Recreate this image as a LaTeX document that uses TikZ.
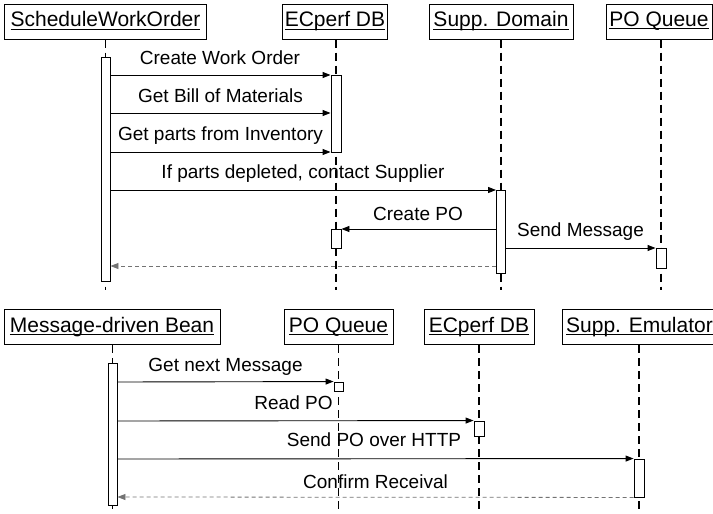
\documentclass[tikz,border=0pt]{standalone}
\usepackage{fontspec}
\setmainfont{Liberation Sans}
\usetikzlibrary{arrows.meta}
% underlined object name: rule at a fixed depth below the baseline
\newcommand\objname[1]{\leavevmode\setbox0\hbox{#1}\rlap{\raisebox{-2.8pt}{\rule{\wd0}{1pt}}}\box0\vphantom{Ag}}
\begin{document}
\begin{tikzpicture}[x=1pt,y=-1pt,
  head/.style={draw,line width=1pt,minimum height=35pt,inner sep=0pt,
    font=\fontsize{21}{24}\selectfont},
  life/.style={line width=1.1pt,dash pattern=on 8pt off 5pt},
  act/.style={draw,fill=white,line width=0.9pt,inner sep=0pt},
  msg/.style={line width=0.9pt,-{Triangle[length=8pt,width=6pt]}},
  ret/.style={black!55,line width=0.8pt,dash pattern=on 4pt off 3pt,
    -{Triangle[length=8pt,width=6pt]}},
  lbl/.style={font=\fontsize{19}{22}\selectfont,inner sep=0pt,anchor=base}]
\useasboundingbox (0,0) rectangle (713,514);

% ---------- Schedule work order ----------
\node[head,minimum width=202pt] (h1) at (105.5,21.5) {\objname{ScheduleWorkOrder}};
\node[head,minimum width=105pt] (h2) at (335,21.5) {\objname{ECperf DB}};
\node[head,minimum width=144pt] (h3) at (501,21.5) {\objname{Supp. Domain}};
\node[head,minimum width=106pt] (h4) at (659,21.5) {\objname{PO Queue}};

\coordinate (e1) at (105.5,290);
\coordinate (e2) at (336,290);
\coordinate (e3) at (501,290);
\coordinate (e4) at (661,290);
\draw[life] (h1.south -| e1) -- (e1);
\draw[life] (h2.south -| e2) -- (e2);
\draw[life] (h3.south -| e3) -- (e3);
\draw[life] (h4.south -| e4) -- (e4);

\node[act,minimum width=9pt,minimum height=224pt] (a1) at (105.5,169) {};
\node[act,minimum width=10pt,minimum height=77pt] (a2) at (336,113.5) {};
\node[act,minimum width=10pt,minimum height=19pt] (a3) at (336,238.5) {};
\node[act,minimum width=9pt,minimum height=83pt] (a4) at (501,231.5) {};
\node[act,minimum width=10pt,minimum height=20pt] (a5) at (661,258) {};

\coordinate (y1) at (0,75);
\coordinate (y2) at (0,113);
\coordinate (y3) at (0,152);
\coordinate (y4) at (0,190);
\coordinate (y5) at (0,229);
\coordinate (y6) at (0,248);
\coordinate (y7) at (0,266);

\draw[msg] (a1.east |- y1) -- (a2.west |- y1);
\draw[msg] (a1.east |- y2) -- (a2.west |- y2);
\draw[msg] (a1.east |- y3) -- (a2.west |- y3);
\draw[msg] (a1.east |- y4) -- (a4.west |- y4);
\draw[msg] (a4.west |- y5) -- (a3.east |- y5);
\draw[msg] (a4.east |- y6) -- (a5.west |- y6);
\draw[ret] (a4.west |- y7) -- (a1.east |- y7);

\node[lbl] (t1) at (220,64) {Create Work Order};
\node[lbl] (t2) at (220.5,102) {Get Bill of Materials};
\node[lbl] (t3) at (220.5,140) {Get parts from Inventory};
\node[lbl] (t4) at (303,178) {If parts depleted, contact Supplier};
\node[lbl] (t5) at (418,220) {Create PO};
\node[lbl] (t6) at (580.5,236) {Send Message};

% ---------- Message-driven bean ----------
\node[head,minimum width=216pt] (g1) at (112,327) {\objname{Message-driven Bean}};
\node[head,minimum width=109pt] (g2) at (338.5,327) {\objname{PO Queue}};
\node[head,minimum width=110pt] (g3) at (479,327) {\objname{ECperf DB}};
\node[head,minimum width=155pt] (g4) at (639.5,327) {\objname{Supp. Emulator}};

\coordinate (f1) at (112.5,514);
\coordinate (f2) at (338.5,514);
\coordinate (f3) at (479,514);
\coordinate (f4) at (639,514);
\draw[life] (g1.south -| f1) -- (f1);
\draw[life] (g2.south -| f2) -- (f2);
\draw[life] (g3.south -| f3) -- (f3);
\draw[life] (g4.south -| f4) -- (f4);

\node[act,minimum width=9pt,minimum height=142pt] (b1) at (112.5,434) {};
\node[act,minimum width=9pt,minimum height=9pt] (b2) at (338.5,386.5) {};
\node[act,minimum width=10pt,minimum height=15pt] (b3) at (479,428.5) {};
\node[act,minimum width=10pt,minimum height=38pt] (b4) at (639,478) {};

\coordinate (z1) at (0,382);
\coordinate (z2) at (0,421);
\coordinate (z3) at (0,459);
\coordinate (z4) at (0,497);

\draw[msg] (b1.east |- z1) -- (b2.north west);
\draw[msg] (b1.east |- z2) -- (b3.north west);
\draw[msg] (b1.east |- z3) -- (b4.north west);
\draw[ret] (b4.south west) -- (b1.east |- z4);

\node[lbl] (s1) at (225.5,371) {Get next Message};
\node[lbl] (s2) at (293.5,409) {Read PO};
\node[lbl] (s3) at (374,446.5) {Send PO over HTTP};
\node[lbl] (s4) at (375.5,488) {Confirm Receival};
\end{tikzpicture}
\end{document}
